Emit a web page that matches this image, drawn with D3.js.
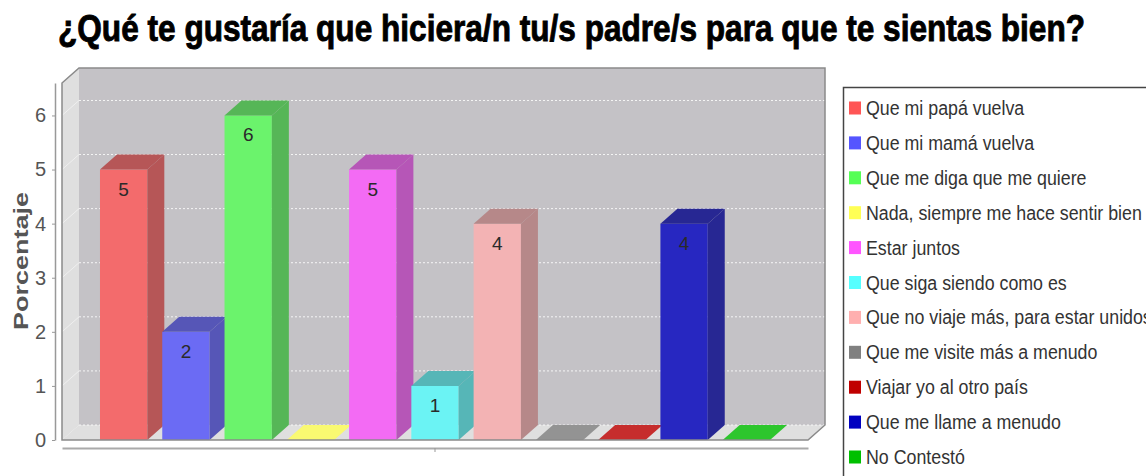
<!DOCTYPE html>
<html lang="es">
<head>
<meta charset="utf-8">
<title>¿Qué te gustaría que hiciera/n tu/s padre/s para que te sientas bien?</title>
<script src="https://d3js.org/d3.v7.min.js"></script>
<style>
  html, body { margin: 0; padding: 0; background: #fff; }
  svg { display: block; }
  text { font-family: "Liberation Sans", Arial, sans-serif; }
</style>
</head>
<body>
<script>
// datos
var titulo = "¿Qué te gustaría que hiciera/n tu/s padre/s para que te sientas bien?";
var ejeY = "Porcentaje";
var categorias = [""];
var series = [
  "Que mi papá vuelva",
  "Que mi mamá vuelva",
  "Que me diga que me quiere",
  "Nada, siempre me hace sentir bien",
  "Estar juntos",
  "Que siga siendo como es",
  "Que no viaje más, para estar unidos",
  "Que me visite más a menudo",
  "Viajar yo al otro país",
  "Que me llame a menudo",
  "No Contestó"
];
var valores = [5, 2, 6, 0, 5, 1, 4, 0, 0, 4, 0];
var colores = ["#ff5555", "#5555ff", "#55ff55", "#ffff55", "#ff55ff", "#55ffff",
               "#ffafaf", "#808080", "#c00000", "#0000c0", "#00c000"];
var ticksY = [0, 1, 2, 3, 4, 5, 6];

// tamaño
var width = 1146, height = 476;
var svg = d3.select("body").append("svg").attr("width", width).attr("height", height);

// zona del grafico (cara frontal) y profundidad 3D
var x0 = 62, x1 = 808, yBase = 440, yTop = 83;
var dx = 17, dy = 15;
var fondo = "#c4c2c6", pared = "#dfdfdf";

var y = d3.scaleLinear().domain([0, 6.6]).range([yBase, yTop]);
var x = d3.scaleBand().domain(series).range([x0, x1]).paddingInner(0.24).paddingOuter(0.61);
var xCat = d3.scaleBand().domain(categorias).range([x0, x1]);

function mezcla(c, debajo) { return d3.interpolateRgb(debajo, c)(0.8); }
function oscuro(c) { var r = d3.rgb(c); return d3.rgb(r.r * 0.7, r.g * 0.7, r.b * 0.7).formatHex(); }

// titulo
svg.append("text")
  .attr("x", 58).attr("y", 41)
  .attr("textLength", 1027).attr("lengthAdjust", "spacingAndGlyphs")
  .style("font-size", "37px").style("font-weight", "bold").style("fill", "#000")
  .style("stroke", "#000").style("stroke-width", 0.9)
  .text(titulo);

// paredes
svg.append("rect").attr("x", x0 + dx).attr("y", yTop - dy)
  .attr("width", x1 - x0).attr("height", yBase - yTop).attr("fill", fondo);
svg.append("path").attr("fill", pared)
  .attr("d", "M" + x0 + "," + yTop + "L" + (x0 + dx) + "," + (yTop - dy) + "L" + (x0 + dx) + "," + (yBase - dy) + "L" + x0 + "," + yBase + "Z");
svg.append("path").attr("fill", pared)
  .attr("d", "M" + x0 + "," + yBase + "L" + (x0 + dx) + "," + (yBase - dy) + "L" + (x1 + dx) + "," + (yBase - dy) + "L" + x1 + "," + yBase + "Z");

// lineas de cuadricula
var grid = svg.append("g").attr("stroke", "#fff").attr("stroke-width", 1);
grid.selectAll("line.back").data(ticksY).enter().append("line")
  .attr("x1", x0 + dx).attr("x2", x1 + dx)
  .attr("y1", function(d){ return y(d) - dy; }).attr("y2", function(d){ return y(d) - dy; })
  .attr("stroke-dasharray", "2,2").attr("opacity", 0.85);
grid.selectAll("line.side").data(ticksY.slice(1)).enter().append("line")
  .attr("x1", x0).attr("x2", x0 + dx)
  .attr("y1", function(d){ return y(d); }).attr("y2", function(d){ return y(d) - dy; })
  .attr("opacity", 0.5);

// barras 3D
var barras = svg.append("g").selectAll("g").data(series).enter().append("g");
barras.each(function(s, i) {
  var g = d3.select(this);
  var v = valores[i], c = colores[i];
  var bx = x(s), bw = x.bandwidth(), by = y(v);
  if (v > 0) {
    g.append("rect").attr("x", bx).attr("y", by).attr("width", bw).attr("height", yBase - by)
      .attr("fill", mezcla(c, fondo));
    g.append("path").attr("fill", mezcla(oscuro(c), fondo))
      .attr("d", "M" + (bx + bw) + "," + by + "L" + (bx + bw + dx) + "," + (by - dy) +
                 "L" + (bx + bw + dx) + "," + (yBase - dy) + "L" + (bx + bw) + "," + yBase + "Z");
    g.append("path").attr("fill", mezcla(oscuro(c), fondo))
      .attr("d", "M" + bx + "," + by + "L" + (bx + dx) + "," + (by - dy) +
                 "L" + (bx + bw + dx) + "," + (by - dy) + "L" + (bx + bw) + "," + by + "Z");
  } else {
    g.append("path").attr("fill", mezcla(c, pared))
      .attr("d", "M" + bx + "," + by + "L" + (bx + dx) + "," + (by - dy) +
                 "L" + (bx + bw + dx) + "," + (by - dy) + "L" + (bx + bw) + "," + by + "Z");
  }
});

// etiquetas de valor
svg.append("g").selectAll("text").data(series.filter(function(s, i){ return valores[i] > 0; }))
  .enter().append("text")
  .attr("x", function(s){ return x(s) + x.bandwidth() / 2; })
  .attr("y", function(s){ return y(valores[series.indexOf(s)]) + 26; })
  .attr("text-anchor", "middle")
  .style("font-size", "19px").style("fill", "#2a2a2a")
  .text(function(s){ return valores[series.indexOf(s)]; });

// borde del grafico
svg.append("path").attr("fill", "none").attr("stroke", "#8a8a8a").attr("stroke-width", 1.5)
  .attr("d", "M" + x0 + "," + yTop + "L" + (x0 + dx) + "," + (yTop - dy) + "L" + (x1 + dx) + "," + (yTop - dy) +
             "L" + (x1 + dx) + "," + (yBase - dy) + "L" + x1 + "," + yBase + "L" + x0 + "," + yBase + "Z");

// eje Y
var axY = svg.append("g").attr("transform", "translate(55,0)")
  .call(d3.axisLeft(y).tickValues(ticksY).tickFormat(d3.format("d"))
    .tickSize(3).tickSizeOuter(0).tickPadding(6));
axY.select(".domain").attr("stroke", "#999").attr("stroke-width", 1.5);
axY.selectAll(".tick line").attr("stroke", "#999");
axY.selectAll(".tick text").style("font-size", "20px").style("fill", "#555")
  .style("font-family", "'Liberation Sans', Arial, sans-serif");

svg.append("text")
  .attr("transform", "translate(28,261) rotate(-90)")
  .attr("text-anchor", "middle")
  .attr("textLength", 138).attr("lengthAdjust", "spacingAndGlyphs")
  .style("font-size", "20px").style("font-weight", "bold").style("fill", "#555")
  .text(ejeY);

// eje X (una sola categoria)
var axX = svg.append("g").attr("transform", "translate(0,448)")
  .call(d3.axisBottom(xCat).tickSize(4).tickSizeOuter(0));
axX.select(".domain").attr("stroke", "#aaa").attr("stroke-width", 2);
axX.selectAll(".tick line").attr("stroke", "#999");

// leyenda
var leg = svg.append("g");
leg.append("rect").attr("x", 843.5).attr("y", 87.5).attr("width", 400).attr("height", 420)
  .attr("fill", "#fff").attr("stroke", "#444").attr("stroke-width", 1.5);
var items = leg.selectAll("g.item").data(series).enter().append("g")
  .attr("transform", function(d, i){ return "translate(849," + (108 + i * 34.9) + ")"; });
items.append("rect").attr("x", 0).attr("y", -6.5).attr("width", 12).attr("height", 13)
  .attr("fill", function(d, i){ return colores[i]; });
var txt = items.append("text").attr("x", 17).attr("y", 7)
  .style("font-size", "20px").style("fill", "#333")
  .text(function(d){ return d; });
// el texto original esta comprimido horizontalmente
var ancho = txt.filter(function(d, i){ return i === 3; }).node().getComputedTextLength();
var k = 276 / ancho;
txt.attr("transform", "translate(17,0) scale(" + k + ",1) translate(-17,0)");
</script>
</body>
</html>
